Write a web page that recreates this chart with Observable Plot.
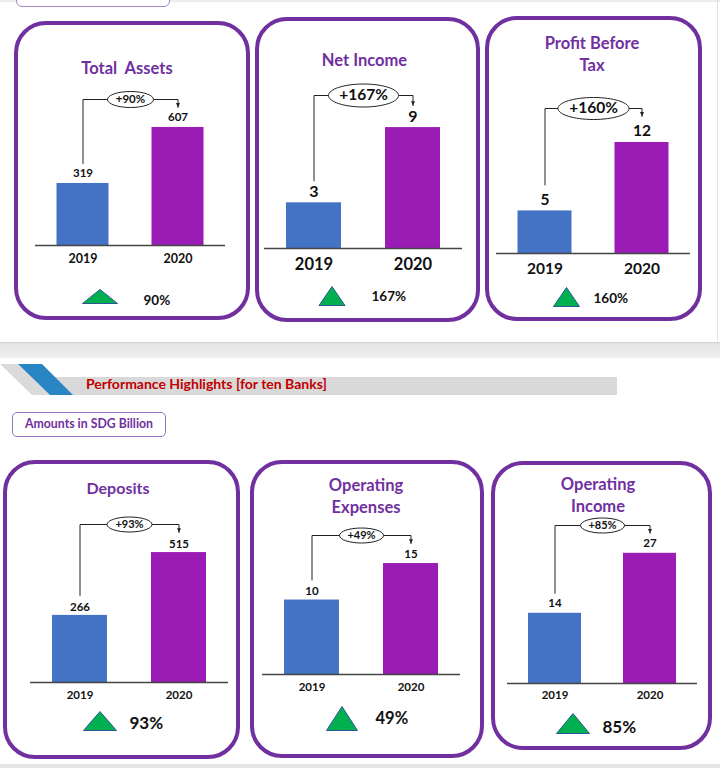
<!DOCTYPE html>
<html><head><meta charset="utf-8">
<script src="https://cdn.jsdelivr.net/npm/d3@7"></script>
<script src="https://cdn.jsdelivr.net/npm/@observablehq/plot@0.6"></script>
<style>
body{margin:0;background:#fff;}
#page{position:relative;width:720px;height:768px;overflow:hidden;font-family:Lato, sans-serif;background:#fff}
.frame{position:absolute;box-sizing:border-box;border:4.5px solid #7030a0;border-radius:32px;pointer-events:none}
.title{position:absolute;color:#7030a0;font-weight:700;text-align:center;white-space:pre;width:220px}
</style></head><body><div id="page"></div>
<script>
// ---------- data ----------
const years = [2019, 2020];
const totalAssets = [319, 607];
const netIncome = [3.4, 9.0];
const profitBeforeTax = [4.6, 12.0];
const deposits = [266, 515];
const operatingExpenses = [10.2, 15.2];
const operatingIncome = [14.4, 26.7];

const totalAssetsLabels = ["319", "607"];
const netIncomeLabels = ["3", "9"];
const profitBeforeTaxLabels = ["5", "12"];
const depositsLabels = ["266", "515"];
const operatingExpensesLabels = ["10", "15"];
const operatingIncomeLabels = ["14", "27"];

const panelTitles = ["Total  Assets", "Net Income", "Profit Before\nTax", "Deposits", "Operating\nExpenses", "Operating\nIncome"];
const changeLabels = ["+90%", "+167%", "+160%", "+93%", "+49%", "+85%"];
const growthLabels = ["90%", "167%", "160%", "93%", "49%", "85%"];
const sectionTitle = "Performance Highlights [for ten Banks]";
const unitNote = "Amounts in SDG Billion";

// ---------- layout / style ----------
const barColors = ["#4472c4", "#9b1cb4"];
const layout = [
 {fx:14, fy:21, fw:236, fh:299, mL:21, mR:25, mT:98, mB:75, yMax:648, inset:21.5, gap:20, ell:[46,16], ellFont:11.5, valFont:11.5, valDy:-10, yearFont:12.5, tickPad:8.5, tri:[35,14], triDx:17, triDy:51, pctFont:13.5, pctDx:60.5, pctDy:55, titleX:127, titleY:68, titleFont:16.5, titleLH:22},
 {fx:255, fy:17, fw:225, fh:305, mL:9, mR:18, mT:100, mB:74, yMax:9.75, inset:22, gap:22, ell:[70,23], ellFont:15.5, valFont:16, valDy:-10.5, yearFont:16.5, tickPad:10, tri:[26,19], triDx:18, triDy:47.5, pctFont:13.5, pctDx:57.5, pctDy:48, titleX:364.5, titleY:60, titleFont:16.5, titleLH:22},
 {fx:485, fy:16, fw:217, fh:305, mL:11, mR:12, mT:118, mB:68, yMax:12.86, inset:21.5, gap:26, ell:[71,22], ellFont:15.5, valFont:15.5, valDy:-11, yearFont:15.5, tickPad:9.5, tri:[26,19], triDx:21.5, triDy:43.5, pctFont:13.5, pctDx:48.5, pctDy:45, titleX:592, titleY:43, titleFont:16.5, titleLH:22},
 {fx:3, fy:460, fw:237, fh:299, mL:27, mR:12, mT:84, mB:77, yMax:547, inset:22, gap:20, ell:[45,15], ellFont:11, valFont:11.5, valDy:-8.5, yearFont:11.5, tickPad:8, tri:[33,19], triDx:20, triDy:38.5, pctFont:17, pctDx:49.5, pctDy:41, titleX:118, titleY:488, titleFont:16, titleLH:22},
 {fx:250, fy:460, fw:234, fh:298, mL:12, mR:24, mT:95, mB:84, yMax:16.3, inset:22, gap:20, ell:[44,15], ellFont:11, valFont:11.5, valDy:-9, yearFont:11.5, tickPad:8, tri:[31,24], triDx:30, triDy:44, pctFont:16.5, pctDx:63.5, pctDy:44, titleX:366, titleY:485, titleFont:16.5, titleLH:22},
 {fx:491, fy:461, fw:221, fh:289, mL:16, mR:15, mT:84, mB:67, yMax:28.3, inset:21, gap:20, ell:[44,15], ellFont:11, valFont:11.5, valDy:-9.5, yearFont:11.5, tickPad:7, tri:[33,20], triDx:18, triDy:40, pctFont:17, pctDx:47.5, pctDy:44, titleX:598, titleY:484, titleFont:16.5, titleLH:22}
];

// ---------- custom symbols ----------
function ellipseSymbol(aspect){ return {draw(ctx, size){ const rx=Math.sqrt(size/Math.PI), ry=rx/aspect, k=0.5523;
  ctx.moveTo(rx,0); ctx.bezierCurveTo(rx,ry*k,rx*k,ry,0,ry); ctx.bezierCurveTo(-rx*k,ry,-rx,ry*k,-rx,0);
  ctx.bezierCurveTo(-rx,-ry*k,-rx*k,-ry,0,-ry); ctx.bezierCurveTo(rx*k,-ry,rx,-ry*k,rx,0); ctx.closePath(); }}; }
function triSymbol(aspect){ return {draw(ctx, size){ const hw=Math.sqrt(size/Math.PI), hh=hw/aspect;
  ctx.moveTo(0,-hh); ctx.lineTo(hw,hh); ctx.lineTo(-hw,hh); ctx.closePath(); }}; }
const arrowHead = {draw(ctx, size){ const s=Math.sqrt(size/Math.PI); ctx.moveTo(0,0); ctx.lineTo(-s,-2.2*s); ctx.lineTo(s,-2.2*s); ctx.closePath(); }};

const page = document.getElementById("page");
function el(tag, css, text){ const e=document.createElement(tag); e.style.cssText=css; if(text!=null) e.textContent=text; page.appendChild(e); return e; }

// ---------- decorations ----------
el("div","position:absolute;left:0;top:0;width:720px;height:2px;background:#ececec");
el("div","position:absolute;left:16px;top:-22px;width:154px;height:29px;box-sizing:border-box;border:1.5px solid #9f86c8;border-radius:6px;background:#fff");
el("div","position:absolute;left:717px;top:0;width:1px;height:342px;background:#e2e2e2");
el("div","position:absolute;left:0;top:342px;width:720px;height:16px;background:linear-gradient(#cfcfcf 0,#e6e6e6 2px,#efefef 100%)");
const hdr = document.createElementNS("http://www.w3.org/2000/svg","svg");
hdr.setAttribute("width","720"); hdr.setAttribute("height","40");
hdr.style.cssText="position:absolute;left:0;top:360px";
hdr.innerHTML = '<polygon points="0,4 18,4 50,35 32,35" fill="#dadada"/>'+
  '<rect x="55" y="17" width="562" height="18" fill="#d9d9d9"/>'+
  '<polygon points="18,4 42,4 73,35 50,35" fill="#2a85c4"/>';
page.appendChild(hdr);
el("div","position:absolute;left:86px;top:376px;font:700 14px Lato, sans-serif;color:#c00000;line-height:16px;white-space:pre", sectionTitle);
el("div","position:absolute;left:12px;top:412px;width:154px;height:25px;box-sizing:border-box;border:1.5px solid #9573c4;border-radius:5px;font:700 12.3px Lato, sans-serif;color:#7030a0;text-align:center;line-height:22px", unitNote);
el("div","position:absolute;left:0;top:764px;width:720px;height:4px;background:#e6e6e6");

// ---------- panels ----------
function panel(i, values, labels){
  const L = layout[i];
  const rows = years.map((year, j) => ({year, value: values[j], label: labels[j]}));
  const path = [{year: years[0], value: values[0]}, {year: years[0], value: L.yMax}, {year: years[1], value: L.yMax}, {year: years[1], value: values[1]}];
  const mid = [{year: d3.mean(years), value: L.yMax, label: changeLabels[i]}];
  const growth = [{year: years[0], value: 0, label: growthLabels[i]}];
  const svg = Plot.plot({
    width: L.fw, height: L.fh,
    marginLeft: L.mL, marginRight: L.mR, marginTop: L.mT, marginBottom: L.mB,
    x: {type: "linear", domain: [years[0] - 0.5, years[1] + 0.5]},
    y: {domain: [0, L.yMax], axis: null},
    color: {type: "ordinal", domain: years, range: barColors},
    style: {fontFamily: "Lato, sans-serif", background: "transparent", overflow: "visible", color: "#111"},
    marks: [
      Plot.rect(rows, {x1: d => d.year - 0.5, x2: d => d.year + 0.5, y1: 0, y2: "value", fill: "year", insetLeft: L.inset, insetRight: L.inset}),
      Plot.ruleY([0], {stroke: "#444", strokeWidth: 1.5}),
      Plot.axisX({ticks: years, tickFormat: d3.format("d"), tickSize: 0, tickPadding: L.tickPad, fontSize: L.yearFont, fontWeight: 700, label: null}),
      Plot.text(rows, {x: "year", y: "value", text: "label", dy: L.valDy, fontSize: L.valFont, fontWeight: 700}),
      Plot.line(path, {x: "year", y: "value", dy: -L.gap, stroke: "#222", strokeWidth: 1}),
      Plot.dot(path.slice(-1), {x: "year", y: "value", dy: -L.gap, r: 2, symbol: arrowHead, fill: "#222", stroke: "none"}),
      Plot.dot(mid, {x: "year", y: "value", dy: -L.gap, r: L.ell[0] / 2, symbol: ellipseSymbol(L.ell[0] / L.ell[1]), fill: "white", stroke: "#222", strokeWidth: 1}),
      Plot.text(mid, {x: "year", y: "value", text: "label", dy: -L.gap, fontSize: L.ellFont, fontWeight: 700}),
      Plot.dot(growth, {x: "year", y: "value", dx: L.triDx, dy: L.triDy, r: L.tri[0] / 2, symbol: triSymbol(L.tri[0] / L.tri[1]), fill: "#00b050", stroke: "#2f5597", strokeWidth: 1}),
      Plot.text(growth, {x: "year", y: "value", text: "label", dx: L.pctDx, dy: L.pctDy, textAnchor: "start", fontSize: L.pctFont, fontWeight: 700})
    ]
  });
  svg.style.position = "absolute";
  svg.style.left = L.fx + "px";
  svg.style.top = L.fy + "px";
  svg.style.maxWidth = "none";
  page.appendChild(svg);
  el("div", `left:${L.fx}px;top:${L.fy}px;width:${L.fw}px;height:${L.fh}px`).className = "frame";
  const t = el("div", `left:${L.titleX - 110}px;top:${L.titleY - L.titleLH/2 - 0.03*L.titleFont}px;font-size:${L.titleFont}px;line-height:${L.titleLH}px`, panelTitles[i]);
  t.className = "title";
}
panel(0, totalAssets, totalAssetsLabels);
panel(1, netIncome, netIncomeLabels);
panel(2, profitBeforeTax, profitBeforeTaxLabels);
panel(3, deposits, depositsLabels);
panel(4, operatingExpenses, operatingExpensesLabels);
panel(5, operatingIncome, operatingIncomeLabels);
</script></body></html>
